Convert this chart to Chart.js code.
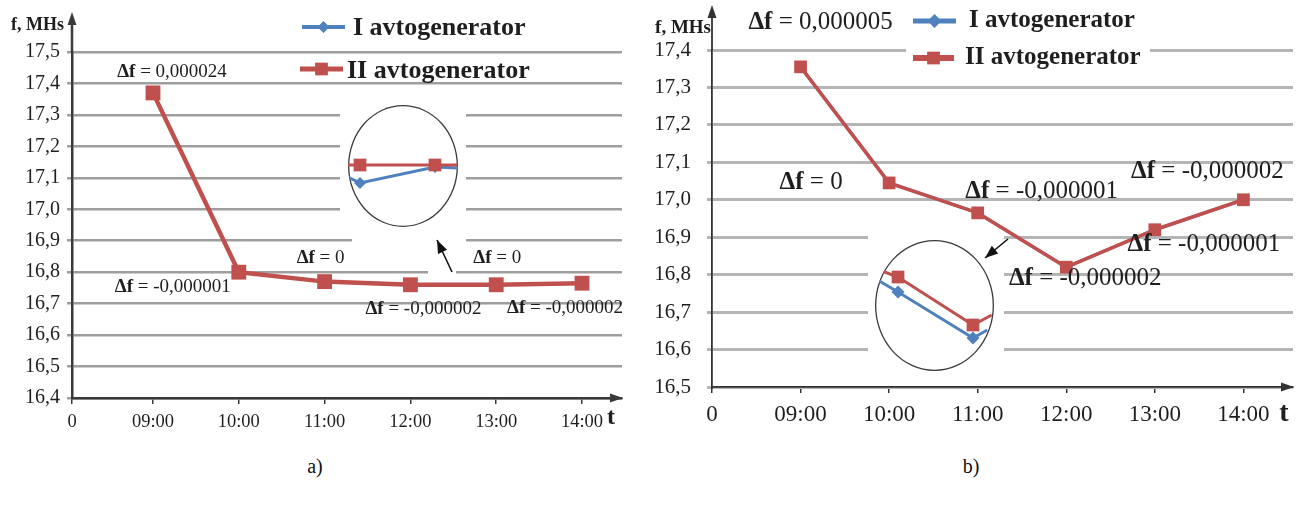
<!DOCTYPE html>
<html>
<head>
<meta charset="utf-8">
<script src="https://cdn.jsdelivr.net/npm/chart.js@4.4.1/dist/chart.umd.min.js"></script>
<style>
    html, body { margin: 0; padding: 0; background: #fff; }
    body { width: 1299px; height: 509px; position: relative; overflow: hidden; }
    .panel { position: absolute; top: 0; }
    .lens { position: absolute; border-radius: 50%; overflow: hidden; background: #fff; box-shadow: inset 0 0 0 1.3px #3a3a3a; }
    .lens canvas { position: absolute; left: 0; top: 0; }
    .caption { position: absolute; font: 20px 'Liberation Serif', serif; color: #111; transform: translate(-50%, -50%); }
</style>
</head>
<body>
<canvas id="chartA" class="panel" style="left:0" width="640" height="440"></canvas>
<canvas id="chartB" class="panel" style="left:650px" width="649" height="440"></canvas>
<div class="lens" style="left:348px;top:105px;width:110px;height:122px"><canvas id="lensA" width="110" height="122"></canvas></div>
<div class="lens" style="left:875px;top:240px;width:119px;height:131px"><canvas id="lensB" width="119" height="131"></canvas></div>
<div class="caption" style="left:315px;top:466px">a)</div>
<div class="caption" style="left:971px;top:466px">b)</div>
<script>
// ---- data ----
const hours       = ['0', '09:00', '10:00', '11:00', '12:00', '13:00', '14:00']
const seriesNames = ['I avtogenerator', 'II avtogenerator']

const yTicksA = [16.4, 16.5, 16.6, 16.7, 16.8, 16.9, 17.0, 17.1, 17.2, 17.3, 17.4, 17.5]
const genIA   = [17.37, 16.80, 16.77, 16.76, 16.76, 16.765]
const genIIA  = [17.37, 16.80, 16.77, 16.76, 16.76, 16.765]
const deltaA  = ['0,000024', '-0,000001', '0', '-0,000002', '0', '-0,000002']

const yTicksB = [16.5, 16.6, 16.7, 16.8, 16.9, 17.0, 17.1, 17.2, 17.3, 17.4]
const genIB   = [17.355, 17.045, 16.965, 16.82, 16.92, 17.00]
const genIIB  = [17.355, 17.045, 16.965, 16.82, 16.92, 17.00]
const deltaB  = ['0,000005', '0', '-0,000001', '-0,000002', '-0,000001', '-0,000002']

// magnified views inside the circles
const lensXA   = [-0.16, 0, 1, 1.31]
const lensIA   = [-11, -17, -1, -2]
const lensIIA  = [1, 1, 1, 1]
const lensXIB  = [-0.25, 0, 1, 1.19]
const lensIB   = [24.5, 13.5, -32.5, -24.5]
const lensXIIB = [-0.25, 0, 1, 1.25]
const lensIIB  = [35.5, 28.5, -19.5, -9.5]

// ---- look ----
const RED   = '#c0504d'
const BLUE  = '#4f81bd'
const INK   = '#1e1e1e'
const SERIF = "'Liberation Serif', 'Times New Roman', serif"

Chart.defaults.font.family = SERIF
Chart.defaults.color       = INK

function drawNote(ctx, cx, cy, value, size) {
    const head = 'Δf', tail = ' = ' + value
    ctx.font   = `bold ${size}px ${SERIF}`
    const w1   = ctx.measureText(head).width
    ctx.font   = `${size}px ${SERIF}`
    const w2   = ctx.measureText(tail).width
    const x    = cx - (w1 + w2) / 2
    ctx.textAlign    = 'left'
    ctx.textBaseline = 'middle'
    ctx.fillStyle    = INK
    ctx.font = `bold ${size}px ${SERIF}`
    ctx.fillText(head, x, cy)
    ctx.font = `${size}px ${SERIF}`
    ctx.fillText(tail, x + w1, cy)
}

function arrowHead(ctx, tx, ty, angle, len, half) {
    ctx.beginPath()
    ctx.moveTo(tx, ty)
    ctx.lineTo(tx - len * Math.cos(angle) + half * Math.sin(angle), ty - len * Math.sin(angle) - half * Math.cos(angle))
    ctx.lineTo(tx - len * Math.cos(angle) - half * Math.sin(angle), ty - len * Math.sin(angle) + half * Math.cos(angle))
    ctx.closePath()
    ctx.fill()
}

function decor(o) {
    return {
        id: 'decor',
        beforeDatasetsDraw(chart) {
            const ctx = chart.ctx
            ctx.save()
            ctx.fillStyle = '#fff'
            o.masks.forEach(([x, y, w, h]) => ctx.fillRect(x, y, w, h))
            ctx.restore()
        },
        afterDatasetsDraw(chart) {
            const {ctx, chartArea: a} = chart
            ctx.save()

            // axis arrows
            ctx.strokeStyle = ctx.fillStyle = o.axisColor
            ctx.lineWidth   = o.axisWidth
            ctx.beginPath()
            ctx.moveTo(a.left, a.top)
            ctx.lineTo(a.left, o.yTip + 8)
            ctx.stroke()
            arrowHead(ctx, a.left, o.yTip, -Math.PI / 2, 13, 4.5)
            arrowHead(ctx, a.right + 1, a.bottom, 0, 13, 4.5)

            // axis names
            ctx.fillStyle    = INK
            ctx.textBaseline = 'middle'
            ctx.textAlign    = 'right'
            ctx.font         = `bold ${o.fSize}px ${SERIF}`
            ctx.fillText('f, MHs', o.fPos[0], o.fPos[1])
            ctx.textAlign = 'center'
            ctx.font      = `bold ${o.tSize}px ${SERIF}`
            ctx.fillText('t', o.tPos[0], o.tPos[1])

            // pointer to the magnified circle
            const [x0, y0, x1, y1] = o.pointer
            ctx.strokeStyle = ctx.fillStyle = '#111'
            ctx.lineWidth   = 1.6
            ctx.beginPath()
            ctx.moveTo(x0, y0)
            ctx.lineTo(x1, y1)
            ctx.stroke()
            arrowHead(ctx, x1, y1, Math.atan2(y1 - y0, x1 - x0), 13, 5)

            // Δf notes next to the points
            const pts = chart.getDatasetMeta(1).data
            o.deltas.forEach((d, i) => {
                const [dx, dy] = o.noteOffsets[i]
                drawNote(ctx, pts[i].x + dx, pts[i].y + dy, d, o.noteSize)
            })

            // legend
            chart.data.datasets.forEach((ds, i) => {
                const it = o.legend[i]
                ctx.strokeStyle = ctx.fillStyle = ds.borderColor
                ctx.lineWidth   = it.width
                ctx.beginPath()
                ctx.moveTo(it.x0, it.y)
                ctx.lineTo(it.x1, it.y)
                ctx.stroke()
                Chart.helpers.drawPoint(ctx, {pointStyle: ds.pointStyle, rotation: 0, radius: it.r, borderWidth: 0}, (it.x0 + it.x1) / 2, it.y)
                ctx.fillStyle    = INK
                ctx.textAlign    = 'left'
                ctx.textBaseline = 'middle'
                ctx.font         = `bold ${o.legendSize}px ${SERIF}`
                ctx.fillText(seriesNames[i], it.tx, it.ty)
            })
            ctx.restore()
        }
    }
}

function mainChart(id, genI, genII, yTicks, o) {
    const pts = vals => vals.map((v, i) => ({x: i + 1, y: v}))
    return new Chart(document.getElementById(id), {
        type   : 'line',
        data   : {
            datasets: [
                {
                    label          : seriesNames[0],
                    data           : pts(genI),
                    borderColor    : BLUE,
                    backgroundColor: BLUE,
                    borderWidth    : 3,
                    pointStyle     : 'rectRot',
                    pointRadius    : 6,
                    pointBorderWidth: 0,
                    order          : 1,
                },
                {
                    label          : seriesNames[1],
                    data           : pts(genII),
                    borderColor    : RED,
                    backgroundColor: RED,
                    borderWidth    : o.lineWidth,
                    pointStyle     : 'rect',
                    pointRadius    : o.markerR,
                    pointBorderWidth: 0,
                    order          : 0,
                }
            ]
        },
        options: {
            responsive: false,
            animation : false,
            events    : [],
            layout    : {autoPadding: false, padding: {left: 0, right: o.padRight, top: o.padTop, bottom: 0}},
            plugins   : {legend: {display: false}, tooltip: {enabled: false}},
            scales    : {
                x: {
                    type           : 'linear',
                    min            : o.xMin,
                    max            : o.xMax,
                    afterFit       : s => { s.height = o.xHeight },
                    // the "0" tick sits on the axis origin
                    afterBuildTicks: s => { s.ticks = hours.map((_, i) => ({value: i === 0 ? s.min : i})) },
                    ticks          : {callback: (v, i) => hours[i], autoSkip: false, maxRotation: 0, padding: o.xPad, font: {size: o.xFont}, color: INK},
                    grid           : {drawOnChartArea: false, tickLength: 6, color: o.axisColor, lineWidth: 1.5},
                    border         : {color: o.axisColor, width: o.axisWidth},
                },
                y: {
                    min            : yTicks[0],
                    max            : yTicks[yTicks.length - 1],
                    afterFit       : s => { s.width = o.yWidth },
                    afterBuildTicks: s => { s.ticks = yTicks.map(v => ({value: v})) },
                    ticks          : {callback: v => v.toFixed(1).replace('.', ','), padding: o.yPad, font: {size: o.yFont}, color: INK},
                    grid           : {color: o.gridColor, lineWidth: o.gridWidth, tickLength: 5},
                    border         : {color: o.axisColor, width: o.axisWidth},
                }
            }
        },
        plugins: [decor(o)]
    })
}

mainChart('chartA', genIA, genIIA, yTicksA, {
    xMin: 0.056, xMax: 6.466, padRight: 18, padTop: 52, xHeight: 42, yWidth: 72,
    xPad: 7, xFont: 18.5, yPad: 7, yFont: 20,
    axisColor: '#3a3a3a', axisWidth: 2.5, gridColor: '#9e9e9e', gridWidth: 2.5,
    lineWidth: 4.5, markerR: 10.5, yTip: 12,
    fSize: 18, fPos: [64, 25], tSize: 24, tPos: [611, 418],
    pointer: [452, 272, 437, 240],
    deltas: deltaA, noteSize: 19,
    noteOffsets: [[19, -21], [-66, 15], [-4, -24], [13, 24], [1, -27], [-17, 25]],
    legendSize: 26,
    legend: [
        {x0: 302, x1: 345, y: 27, width: 4, r: 6, tx: 353, ty: 28},
        {x0: 300, x1: 343, y: 69, width: 5, r: 9, tx: 347, ty: 71},
    ],
    masks: [[340, 98, 126, 138], [352, 236, 114, 26], [428, 262, 28, 15]],
})

mainChart('chartB', genIB, genIIB, yTicksB, {
    xMin: 0, xMax: 6.56, padRight: 6, padTop: 50, xHeight: 53, yWidth: 62,
    xPad: 8, xFont: 23, yPad: 16, yFont: 21,
    axisColor: '#333', axisWidth: 1.8, gridColor: '#b5b5b5', gridWidth: 3,
    lineWidth: 3.5, markerR: 9, yTip: 5,
    fSize: 19, fPos: [61, 28], tSize: 28, tPos: [634, 414],
    pointer: [358, 239, 335, 258],
    deltas: deltaB, noteSize: 25,
    noteOffsets: [[20, -44], [-78, 0], [64, -21], [19, 11], [49, 15], [-36, -28]],
    legendSize: 25,
    legend: [
        {x0: 263, x1: 306, y: 21, width: 5, r: 7, tx: 319, ty: 21},
        {x0: 263, x1: 304, y: 58, width: 6, r: 9, tx: 315, ty: 58},
    ],
    masks: [[218, 225, 136, 150], [256, 0, 244, 80]],
})

function lensChart(id, xMin, xMax, yHalf, series) {
    return new Chart(document.getElementById(id), {
        type   : 'line',
        data   : {
            datasets: series.map(s => ({
                data           : s.xs.map((x, i) => ({x, y: s.ys[i]})),
                borderColor    : s.color,
                backgroundColor: s.color,
                borderWidth    : 3,
                pointStyle     : s.style,
                pointRadius    : s.xs.map((_, i) => (i === 1 || i === 2) ? s.r : 0),
                pointBorderWidth: 0,
                order          : s.order,
            }))
        },
        options: {
            responsive: false,
            animation : false,
            events    : [],
            layout    : {autoPadding: false, padding: 0},
            plugins   : {legend: {display: false}, tooltip: {enabled: false}},
            scales    : {
                x: {type: 'linear', display: false, min: xMin, max: xMax},
                y: {display: false, min: -yHalf, max: yHalf},
            }
        }
    })
}

lensChart('lensA', -0.16, 1.307, 61, [
    {xs: lensXA, ys: lensIA, color: BLUE, style: 'rectRot', r: 6, order: 1},
    {xs: lensXA, ys: lensIIA, color: RED, style: 'rect', r: 9, order: 0},
])

lensChart('lensB', -0.307, 1.28, 65.5, [
    {xs: lensXIB, ys: lensIB, color: BLUE, style: 'rectRot', r: 6.5, order: 1},
    {xs: lensXIIB, ys: lensIIB, color: RED, style: 'rect', r: 9, order: 0},
])
</script>
</body>
</html>
